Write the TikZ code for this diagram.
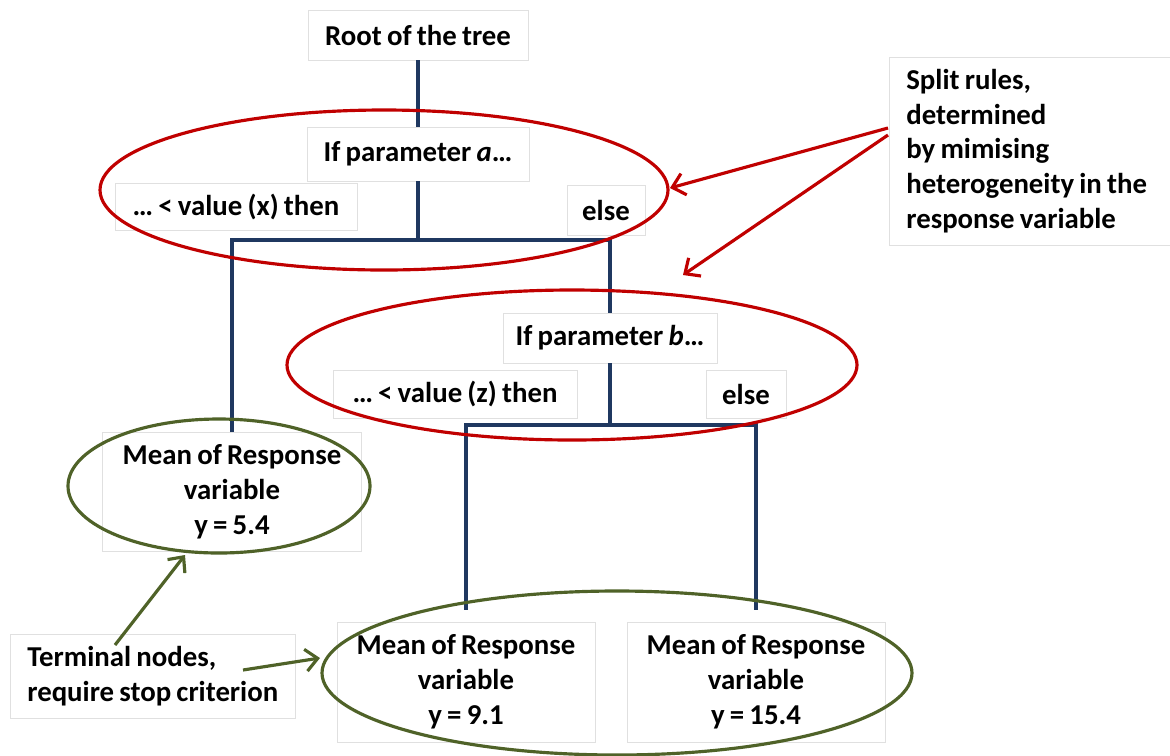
\documentclass[tikz,border=0pt]{standalone}
\usepackage{fontspec}
\setmainfont{Carlito}[WordSpace=0.8]
\usetikzlibrary{arrows.meta}
\definecolor{splitred}{RGB}{192,0,0}
\definecolor{leafgreen}{RGB}{79,98,40}
\definecolor{branchblue}{RGB}{31,56,96}
\definecolor{boxgray}{RGB}{224,224,224}

\begin{document}
\begin{tikzpicture}[x=0.02cm,y=-0.02cm,
  txt/.style={draw=boxgray,fill=white,inner sep=0pt,align=center,font=\fontsize{16.4}{19.8}\selectfont\bfseries},
  branch/.style={draw=branchblue,line width=2.1pt},
  splitring/.style={draw=splitred,line width=1.8pt},
  leafring/.style={draw=leafgreen,line width=1.8pt},
  note/.style={-{Straight Barb[length=2.4mm,width=4.4mm]},line width=1.8pt}]
\useasboundingbox (0,0) rectangle (1170,755);

\node[txt,minimum width=4.4cm,minimum height=1cm] (root) at (418,35) {Root of the tree};
\node[txt,minimum width=4.44cm,minimum height=1.08cm] (ifa) at (418,154) {If parameter \textit{a}…};
\node[txt,minimum width=4.84cm,minimum height=0.94cm] (thenx) at (236,207) {… < value (x) then};
\node[txt,minimum width=1.56cm,minimum height=1cm] (elsea) at (606,210) {else};
\node[txt,minimum width=4.28cm,minimum height=1cm] (ifb) at (610,338) {If parameter \textit{b}…};
\node[txt,minimum width=4.88cm,minimum height=0.96cm] (thenz) at (455,394) {… < value (z) then};
\node[txt,minimum width=1.6cm,minimum height=0.96cm] (elseb) at (746,394) {else};

\node[txt,minimum width=5.18cm,minimum height=2.38cm] (leafa) at (232,492) {Mean of Response\\variable\\y = 5.4};
\node[txt,minimum width=5.16cm,minimum height=2.4cm] (leafb) at (466,682) {Mean of Response\\variable\\y = 9.1};
\node[txt,minimum width=5.16cm,minimum height=2.4cm] (leafc) at (756,682) {Mean of Response\\variable\\y = 15.4};

\node[txt,align=left,anchor=west,inner xsep=0.34cm,minimum height=1.68cm] (terminal) at (10,676) {Terminal nodes,\\require stop criterion};
\node[txt,align=left,anchor=west,text width=5.24cm,inner xsep=0.34cm,minimum height=3.76cm] (split) at (889,151) {\spaceskip=0pt Split rules,\\determined\\by mimising\\heterogeneity in the\\response variable};

\coordinate (ja) at (418,240);
\coordinate (jb) at (610,425);
\draw[branch] (root.south) -- (ifa.north);
\draw[branch] (ifa.south) -- (ja);
\draw[branch] (leafa.north) |- (ja) -| (ifb.north);
\draw[branch] (ifb.south) -- (jb);
\draw[branch] ([yshift=0.24cm]leafb.north) |- (jb) -| ([yshift=0.24cm]leafc.north);

\draw[splitring] (384,190) ellipse [x radius=284, y radius=80];
\draw[splitring] (572,365) ellipse [x radius=285, y radius=75];
\draw[leafring] (219,486) ellipse [x radius=151, y radius=67];
\draw[leafring] (617,673) ellipse [x radius=295, y radius=82];

\coordinate (ringa) at (670,188);
\coordinate (ringb) at (683,275);
\coordinate (splita) at (888,128);
\coordinate (splitb) at (888,135);
\draw[note,splitred] (splita) -- (ringa);
\draw[note,splitred] (splitb) -- (ringb);

\coordinate (ringc) at (185,555);
\coordinate (ringd) at (320,658);
\coordinate (terma) at (115,645);
\coordinate (termb) at (243,670);
\draw[note,leafgreen] (terma) -- (ringc);
\draw[note,leafgreen] (termb) -- (ringd);

\end{tikzpicture}
\end{document}
